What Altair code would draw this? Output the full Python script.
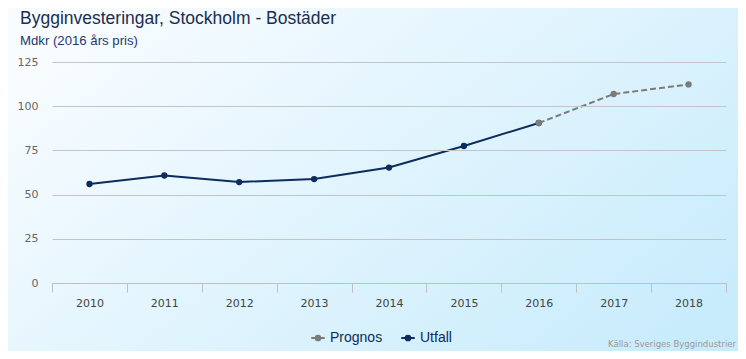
import altair as alt
import pandas as pd

years = ["2010", "2011", "2012", "2013", "2014", "2015", "2016", "2017", "2018"]
utfall_years = ["2010", "2011", "2012", "2013", "2014", "2015", "2016"]
utfall_values = [56.0, 60.8, 57.1, 58.8, 65.3, 77.5, 90.5]
prognos_years = ["2016", "2017", "2018"]
prognos_values = [90.5, 106.9, 112.3]
series_names = ["Prognos", "Utfall"]
series_colors = ["#7b7b7b", "#0c2c5c"]
title_text = "Bygginvesteringar, Stockholm - Bostäder"
subtitle_text = "Mdkr (2016 års pris)"
source_text = "Källa: Sveriges Byggindustrier"

df = pd.concat([
    pd.DataFrame({"year": utfall_years, "value": utfall_values, "series": "Utfall"}),
    pd.DataFrame({"year": prognos_years, "value": prognos_values, "series": "Prognos"}),
])

W, H = 674, 221

color = alt.Color(
    "series:N",
    scale=alt.Scale(domain=series_names, range=series_colors),
    legend=alt.Legend(
        title=None,
        orient="none",
        legendX=258,
        legendY=268,
        direction="horizontal",
        symbolType="M-1,0L1,0M-0.35,0A0.35,0.35 0 1,1 0.35,0A0.35,0.35 0 1,1 -0.35,0Z",
        symbolSize=180,
        symbolStrokeWidth=2,
        labelFontSize=14,
        labelFont="Liberation Sans",
        labelColor="#0c2c5c",
        columnPadding=14,
        labelOffset=4,
        zindex=2,
    ),
)

xenc = alt.X(
    "year:O",
    scale=alt.Scale(domain=years, paddingInner=0, paddingOuter=0),
    axis=alt.Axis(
        title=None, labelAngle=0, bandPosition=0, tickBand="extent",
        domainColor="#c0c0c0", tickColor="#c0c0c0", tickSize=9, grid=False,
        labelColor="#444444", labelFontSize=11, labelFont="DejaVu Sans",
        labelPadding=5, zindex=1,
    ),
)
yenc = alt.Y(
    "value:Q",
    scale=alt.Scale(domain=[0, 125], nice=False),
    axis=alt.Axis(
        title=None, values=[0, 25, 50, 75, 100, 125], domain=False, ticks=False,
        gridColor="#c4c4c4", gridWidth=1, labelColor="#666666", labelFontSize=11,
        labelFont="DejaVu Sans", labelPadding=14, zindex=1,
    ),
)

bg = alt.Chart(pd.DataFrame({"a": [0]})).mark_rect(
    clip=False,
    fill=alt.Gradient(
        gradient="linear",
        stops=[alt.GradientStop(offset=0, color="#f8fcff"),
               alt.GradientStop(offset=1, color="#c9ecfc")],
        x1=0, y1=0.2, x2=1, y2=0.8,
    ),
).encode(x=alt.value(-44), x2=alt.value(W + 12), y=alt.value(-54), y2=alt.value(H + 68))

base = alt.Chart(df)

utfall_line = base.transform_filter(alt.datum.series == "Utfall").mark_line(strokeWidth=2).encode(
    x=xenc, y=yenc, color=color)
prognos_line = base.transform_filter(alt.datum.series == "Prognos").mark_line(
    strokeWidth=2, strokeDash=[6, 3]).encode(x=xenc, y=yenc, color=color)
utfall_pts = base.transform_filter(alt.datum.series == "Utfall").mark_point(
    filled=True, size=40, opacity=1).encode(x=xenc, y=yenc, color=color)
prognos_pts = base.transform_filter(alt.datum.series == "Prognos").mark_point(
    filled=True, size=40, opacity=1).encode(x=xenc, y=yenc, color=color)

title_mark = alt.Chart(pd.DataFrame({"t": [title_text]})).mark_text(
    align="left", baseline="alphabetic", fontSize=17.5, font="Liberation Sans", color="#1b2d52"
).encode(text="t:N", x=alt.value(-32), y=alt.value(-38))

subtitle_mark = alt.Chart(pd.DataFrame({"t": [subtitle_text]})).mark_text(
    align="left", baseline="alphabetic", fontSize=13.2, font="Liberation Sans", color="#1b3a6e"
).encode(text="t:N", x=alt.value(-32), y=alt.value(-17))

source = alt.Chart(pd.DataFrame({"t": [source_text]})).mark_text(
    align="right", baseline="middle", fontSize=8.5, font="DejaVu Sans", color="#999999"
).encode(text="t:N", x=alt.value(W + 10), y=alt.value(H + 61))

chart = alt.layer(
    bg, utfall_line, prognos_line, utfall_pts, prognos_pts, source, title_mark, subtitle_mark
).properties(
    width=W,
    height=H,
    autosize=alt.AutoSizeParams(type="none"),
    padding={"left": 44, "top": 54, "right": 12, "bottom": 68},
).configure_view(stroke=None).configure(background="#eef8fe")

chart.save("out.html", embed_options={"renderer": "svg", "actions": False})
